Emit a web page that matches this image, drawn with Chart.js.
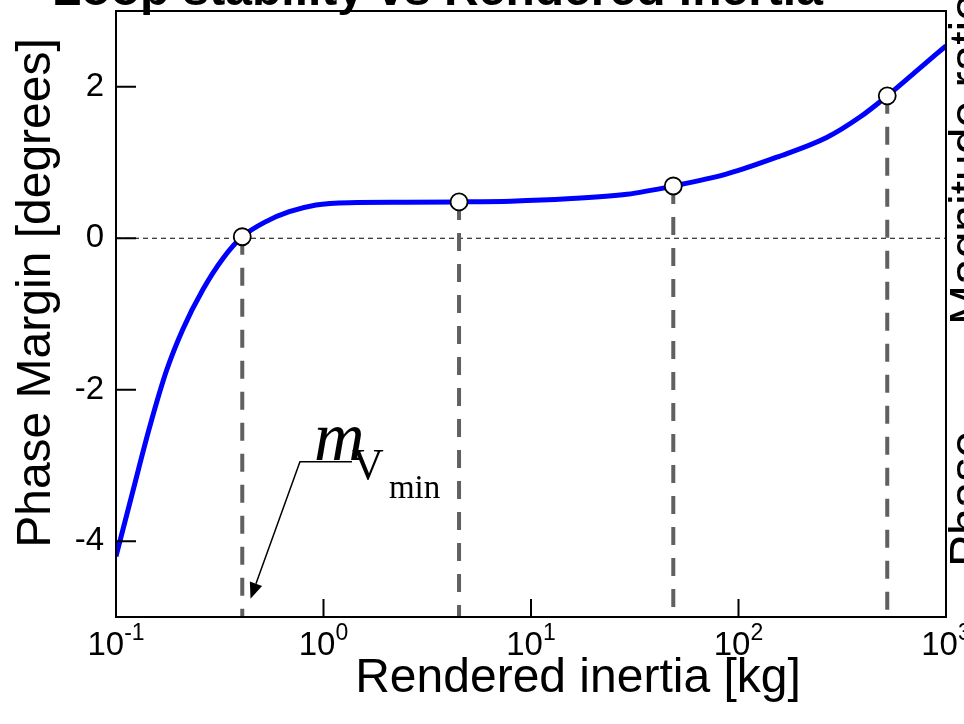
<!DOCTYPE html>
<html>
<head>
<meta charset="utf-8">
<script src="https://cdn.jsdelivr.net/npm/chart.js@4.4.1/dist/chart.umd.min.js"></script>
<style>
  html, body { margin: 0; padding: 0; background: #fff; }
  canvas { display: block; }
</style>
</head>
<body>
<canvas id="chart" width="964" height="724"></canvas>
<script>
// rendered inertia [kg] vs phase margin [degrees]
const inertia = [0.1, 0.12, 0.145, 0.175, 0.21, 0.262, 0.327, 0.406, 0.528, 0.684, 0.92, 1.33, 2.5, 4.5, 8, 15, 29, 48.5, 88, 153, 266, 385, 521, 722, 1000];
const phaseMargin = [-4.2, -3.36, -2.5, -1.75, -1.2, -0.68, -0.27, 0.02, 0.22, 0.35, 0.44, 0.47, 0.475, 0.48, 0.49, 0.52, 0.58, 0.69, 0.85, 1.07, 1.33, 1.6, 1.88, 2.21, 2.54];

// highlighted operating points
const markerInertia = [0.406, 4.5, 48.5, 521];
const markerPhase = [0.02, 0.48, 0.69, 1.88];

// axes
const xRange = [0.1, 1000];
const yRange = [-5, 3];
const xTickValues = [0.1, 1, 10, 100, 1000];
const xTickExponents = ['-1', '0', '1', '2', '3'];
const yTickValues = [-4, -2, 0, 2];

// m_Vmin callout, in data units: arrow tip, knee, end of underline
const calloutInertia = [0.445, 0.77, 1.372];
const calloutPhase = [-4.76, -2.95, -2.95];

const SANS = "'Liberation Sans', Arial, Helvetica, sans-serif";
const SERIF = "'Liberation Serif', 'Times New Roman', serif";

const datasets = [
  {
    label: 'points',
    type: 'scatter',
    data: markerInertia.map((x, i) => ({ x, y: markerPhase[i] })),
    pointRadius: 8.5,
    pointBackgroundColor: '#ffffff',
    pointBorderColor: '#000000',
    pointBorderWidth: 1.8,
    showLine: false,
  },
  {
    label: 'phase margin',
    data: inertia.map((x, i) => ({ x, y: phaseMargin[i] })),
    borderColor: '#0000ff',
    borderWidth: 5,
    pointRadius: 0,
    cubicInterpolationMode: 'monotone',
    fill: false,
  },
];

markerInertia.forEach((x, i) => {
  datasets.push({
    label: 'drop ' + i,
    data: [{ x, y: markerPhase[i] }, { x, y: yRange[0] }],
    borderColor: '#606060',
    borderWidth: 4,
    borderDash: [18, 13],
    pointRadius: 0,
    fill: false,
  });
});

datasets.push({
  label: 'zero',
  data: [{ x: xRange[0], y: 0 }, { x: xRange[1], y: 0 }],
  borderColor: '#000000',
  borderWidth: 1,
  borderDash: [5, 4],
  pointRadius: 0,
  fill: false,
});

const decorations = {
  id: 'decorations',
  afterDraw(chart) {
    const { ctx, chartArea: a, scales: { x, y } } = chart;
    ctx.save();

    // frame + inward ticks
    ctx.strokeStyle = '#000';
    ctx.lineWidth = 2;
    ctx.strokeRect(a.left, a.top, a.right - a.left, a.bottom - a.top);
    ctx.beginPath();
    yTickValues.forEach(v => {
      const py = y.getPixelForValue(v);
      ctx.moveTo(a.left, py);
      ctx.lineTo(a.left + 20, py);
    });
    xTickValues.forEach(v => {
      const px = x.getPixelForValue(v);
      ctx.moveTo(px, a.bottom);
      ctx.lineTo(px, a.bottom - 18);
    });
    ctx.stroke();

    // x tick labels with superscript exponents
    ctx.fillStyle = '#000';
    ctx.textBaseline = 'alphabetic';
    ctx.textAlign = 'left';
    xTickValues.forEach((v, i) => {
      const px = x.getPixelForValue(v);
      ctx.font = '33px ' + SANS;
      const w1 = ctx.measureText('10').width;
      ctx.font = '23px ' + SANS;
      const w2 = ctx.measureText(xTickExponents[i]).width;
      const left = px - (w1 + w2) / 2;
      ctx.font = '33px ' + SANS;
      ctx.fillText('10', left, 655);
      ctx.font = '23px ' + SANS;
      ctx.fillText(xTickExponents[i], left + w1, 640);
    });

    // axis titles
    ctx.font = '48px ' + SANS;
    ctx.textAlign = 'center';
    ctx.fillText('Rendered inertia [kg]', 578, 692);

    ctx.save();
    ctx.translate(50, 293);
    ctx.rotate(-Math.PI / 2);
    ctx.fillText('Phase Margin [degrees]', 0, 0);
    ctx.restore();

    // clipped right-hand axis labels
    ctx.save();
    ctx.translate(983, 0);
    ctx.rotate(-Math.PI / 2);
    ctx.textAlign = 'left';
    ctx.fillText('Magnitude ratio', -325, 0);
    ctx.fillText('Phase', -567, 0);
    ctx.restore();

    // clipped title
    ctx.font = 'bold 48px ' + SANS;
    ctx.textAlign = 'left';
    ctx.fillText('Loop stability vs Rendered inertia', 52, 5);

    // m_Vmin callout
    const cx = calloutInertia.map(v => x.getPixelForValue(v));
    const cy = calloutPhase.map(v => y.getPixelForValue(v));
    ctx.lineWidth = 1.5;
    ctx.beginPath();
    ctx.moveTo(cx[2], cy[2]);
    ctx.lineTo(cx[1], cy[1]);
    const dx = cx[0] - cx[1];
    const dy = cy[0] - cy[1];
    const len = Math.hypot(dx, dy);
    const ux = dx / len, uy = dy / len;
    const head = 16, half = 6.5;
    const bx = cx[0] - ux * head, by = cy[0] - uy * head;
    ctx.lineTo(bx, by);
    ctx.stroke();
    ctx.beginPath();
    ctx.moveTo(cx[0], cy[0]);
    ctx.lineTo(bx - uy * half, by + ux * half);
    ctx.lineTo(bx + uy * half, by - ux * half);
    ctx.closePath();
    ctx.fill();

    ctx.textAlign = 'left';
    ctx.font = 'italic 70px ' + SERIF;
    ctx.fillText('m', cx[1] + 14, cy[1] - 2);
    ctx.font = '44px ' + SERIF;
    ctx.fillText('V', cx[1] + 52, cy[1] + 17);
    ctx.font = '33px ' + SERIF;
    ctx.fillText('min', cx[1] + 89, cy[1] + 36);

    ctx.restore();
  },
};

new Chart(document.getElementById('chart'), {
  type: 'line',
  data: { datasets },
  options: {
    responsive: false,
    animation: false,
    events: [],
    layout: { padding: { top: 11, right: 18, left: 0, bottom: 0 } },
    plugins: {
      legend: { display: false },
      tooltip: { enabled: false },
    },
    scales: {
      x: {
        type: 'logarithmic',
        min: xRange[0],
        max: xRange[1],
        afterFit: s => { s.height = 107; s.paddingLeft = 0; s.paddingRight = 0; },
        ticks: { display: false },
        grid: { display: false },
        border: { display: false },
      },
      y: {
        type: 'linear',
        min: yRange[0],
        max: yRange[1],
        afterFit: s => { s.width = 116; s.paddingTop = 0; s.paddingBottom = 0; },
        afterBuildTicks: s => { s.ticks = yTickValues.map(v => ({ value: v })); },
        ticks: {
          color: '#000',
          padding: 4,
          font: { family: SANS, size: 33 },
        },
        grid: { display: false },
        border: { display: false },
      },
    },
  },
  plugins: [decorations],
});
</script>
</body>
</html>
